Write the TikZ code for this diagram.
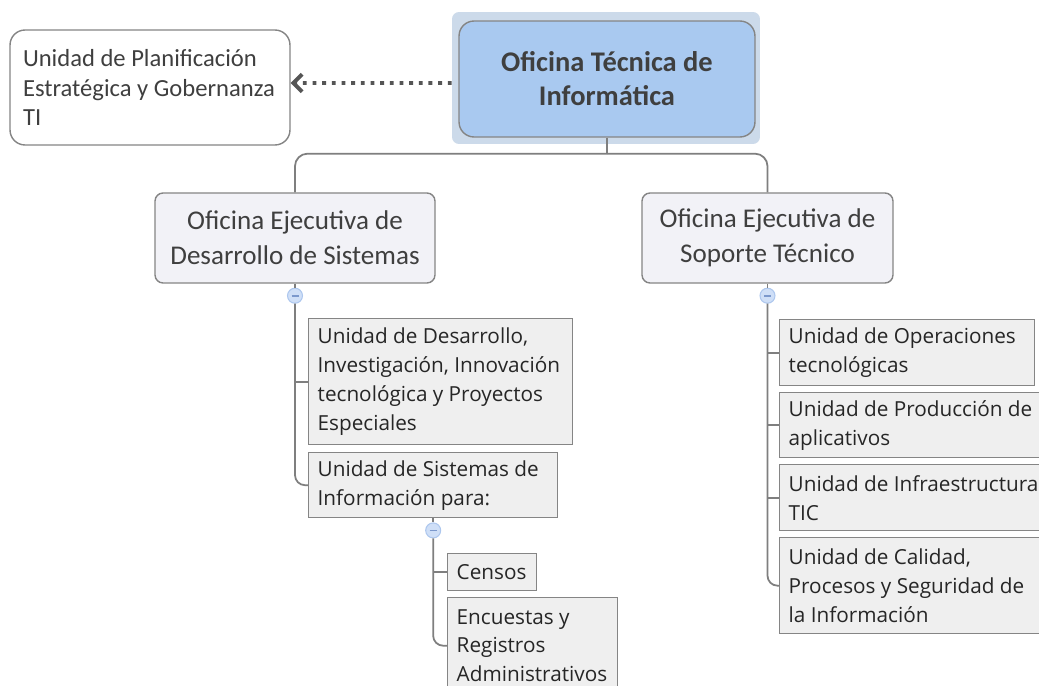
\documentclass[tikz,border=0pt]{standalone}
\usepackage{fontspec}
\setmainfont{Carlito}
\newfontfamily\unitfont{Open Sans}
\usetikzlibrary{arrows.meta, positioning}

\definecolor{mainfill}{HTML}{A9C9F0}
\definecolor{glowfill}{HTML}{CCDAEA}
\definecolor{ofifill}{HTML}{F2F2F7}
\definecolor{unitfill}{HTML}{EFEFEF}
\definecolor{edgegray}{HTML}{858585}
\definecolor{linkgray}{HTML}{7F7F7F}
\definecolor{textgray}{HTML}{3F3F3F}
\definecolor{arrowgray}{HTML}{555555}
\definecolor{togglefill}{HTML}{CFDFF7}
\definecolor{toggleedge}{HTML}{ADC7EE}
\definecolor{toggleminus}{HTML}{7B98CC}

\begin{document}
\begin{tikzpicture}[x=0.02cm, y=-0.02cm,
    glowbox/.style={fill=glowfill, rounded corners=0.14cm, minimum width=6.16cm, minimum height=2.64cm},
    mainbox/.style={draw=edgegray, fill=mainfill, line width=0.8pt, rounded corners=0.3cm,
        minimum width=5.92cm, minimum height=2.32cm, align=center, text=textgray,
        font=\fontsize{16.2}{19.4}\selectfont\bfseries},
    planbox/.style={draw=edgegray, fill=white, line width=0.8pt, rounded corners=0.3cm,
        inner xsep=0.26cm, text width=5.08cm, minimum height=2.3cm, align=flush left, text=textgray,
        font=\fontsize{14}{17}\selectfont},
    ofibox/.style={draw=edgegray, fill=ofifill, line width=0.8pt, rounded corners=0.16cm,
        minimum height=1.8cm, align=center, text=textgray, font=\fontsize{15.4}{20}\selectfont},
    unitbox/.style={draw=edgegray, fill=unitfill, line width=0.8pt, anchor=north west,
        inner xsep=0.18cm, text width=#1, align=flush left, text=black!85,
        font=\unitfont\fontsize{11.8}{16.5}\selectfont},
    toggle/.style={circle, draw=toggleedge, fill=togglefill, line width=0.6pt, minimum size=0.3cm, inner sep=0pt,
        path picture={\draw[toggleminus, line width=0.9pt]
            ([xshift=-0.07cm]path picture bounding box.center) -- ([xshift=0.07cm]path picture bounding box.center);}},
    link/.style={draw=linkgray, line width=1pt},
    dotlink/.style={draw=arrowgray, line width=2.2pt, dash pattern=on 2.2pt off 3.3pt,
        -{Straight Barb[length=5pt, width=10pt]}}]

    \useasboundingbox (0,0) rectangle (1039,686);
    \fill[white] (0,0) rectangle (1039,686);
    \clip (0,0) rectangle (1039,686);

    % top level
    \node[glowbox] (glow) at (606,78) {};
    \node[mainbox] (main) at (607,79) {Oficina Técnica de\\Informática};
    \node[planbox] (plan) at (150,87.5) {Unidad de Planificación\\Estratégica y Gobernanza\\TI};
    \draw[dotlink] ([yshift=-0.1cm]glow.west) -- ([yshift=0.09cm]plan.east);

    % executive offices
    \node[ofibox, minimum width=5.6cm] (des) at (295,238) {Oficina Ejecutiva de\\Desarrollo de Sistemas};
    \node[ofibox, minimum width=5.02cm] (sop) at (767.5,238) {Oficina Ejecutiva de\\Soporte Técnico};
    \draw[link] (main.south) -- ++(0,16) coordinate (hub);
    \draw[link, rounded corners=0.25cm] (hub) -| (des.north);
    \draw[link, rounded corners=0.25cm] (hub) -| (sop.north);

    % units under Desarrollo de Sistemas
    \node[toggle, below=0.08cm of des] (tgdes) {};
    \node[unitbox=4.92cm, minimum height=2.52cm] (desinv) at (308,318)
        {Unidad de Desarrollo,\\Investigación, Innovación\\tecnológica y Proyectos\\Especiales};
    \node[unitbox=4.62cm, minimum height=1.3cm] (dessis) at (308,452)
        {Unidad de Sistemas de\\Información para:};
    \draw[link] (des) -- (tgdes);
    \draw[link] (tgdes |- desinv.west) -- (desinv.west);
    \draw[link, rounded corners=0.2cm] (tgdes) |- (dessis);

    \node[toggle, below=0.08cm of dessis] (tgsis) {};
    \node[unitbox=1.42cm, minimum height=0.74cm] (censos) at (447,553) {Censos};
    \node[unitbox=3.04cm, minimum height=1.92cm] (encuestas) at (447,597)
        {Encuestas y\\Registros\\Administrativos};
    \draw[link] (dessis) -- (tgsis);
    \draw[link] (tgsis |- censos.west) -- (censos.west);
    \draw[link, rounded corners=0.2cm] (tgsis) |- (encuestas);

    % units under Soporte Tecnico
    \node[toggle, below=0.08cm of sop] (tgsop) {};
    \node[unitbox=4.74cm, minimum height=1.32cm] (sopope) at (779,319)
        {Unidad de Operaciones\\tecnológicas};
    \node[unitbox=5.24cm, minimum height=1.3cm] (soppro) at (779,392)
        {Unidad de Producción de\\aplicativos};
    \node[unitbox=5.24cm, minimum height=1.32cm] (sopinf) at (779,464)
        {Unidad de Infraestructura\\TIC};
    \node[unitbox=5.24cm, minimum height=1.92cm] (sopcal) at (779,537)
        {Unidad de Calidad,\\Procesos y Seguridad de\\la Información};
    \draw[link] (sop) -- (tgsop);
    \foreach \u in {sopope, soppro, sopinf}
        \draw[link] (tgsop |- \u.west) -- (\u.west);
    \draw[link, rounded corners=0.2cm] (tgsop) |- (sopcal);
\end{tikzpicture}
\end{document}
